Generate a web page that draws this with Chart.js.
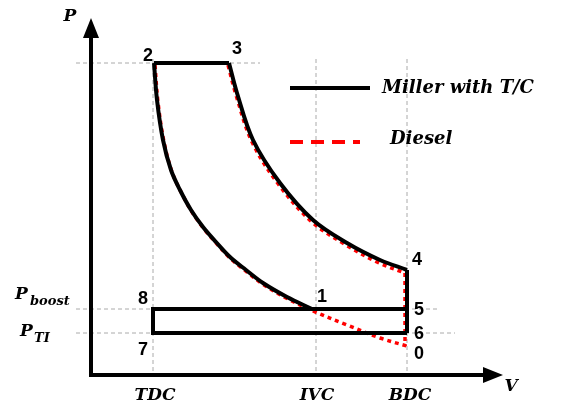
<!DOCTYPE html>
<html><head><meta charset="utf-8">
<script src="https://cdn.jsdelivr.net/npm/chart.js@4"></script>
<style>html,body{margin:0;padding:0;background:#fff}#w{width:579px;height:410px}</style>
</head><body><div id="w"><canvas id="c" width="579" height="410"></canvas></div>
<script>
// coordinates: V (x) and P (y) in schematic units
const compV = [154,157,163,171,180,191,203,216,230,246,263,287,312];
const compP = [312,275,235,205,185,165,148,133,118,105,92,78,66];
const dieselCompV = [155,158,164,172,181,192,204,217,231,247,264,288,313,347,380,407];
const dieselCompP = [310,273,233,203,183,163,146,131,116,103,90,76,64,50,37,29];
const expV = [229,237,253,280,313,347,380,407];
const expP = [312,282,235,192,155,132,115,105];
const dieselExpV = [228,236,252,279,312,346,379,405];
const dieselExpP = [310,280,233,190,153,130,112,102];
const topV = [154,229];
const topP = [312,312];
const rightV = [407,407,407];
const rightP = [105,66,42];
const loopV = [407,153,153,407];
const loopP = [42,42,66,66];
const dieselRightV = [405,405];
const dieselRightP = [102,29];
const refV = {TDC:153, IVC:316, BDC:407};
const refP = {top:312, boost:66, ti:42};
const pointLabels = [
 ['2',148,56],['3',237,49],['4',417,260],['1',322,297],['5',419,310],['6',419,334],['0',419,354],['8',143,299],['7',143,350]
];
function pts(xs,ys){return xs.map((x,i)=>({x,y:ys[i]}));}
const black = {borderColor:'#000',borderWidth:4,pointRadius:0,fill:false,tension:0};
const red = {borderColor:'#f00',borderWidth:3.5,borderDash:[4,4],pointRadius:0,fill:false,tension:0};
const curve = {tension:0.35};
const deco = {
 id:'deco',
 beforeDatasetsDraw(ch){
  const c=ch.ctx,x=ch.scales.x,y=ch.scales.y;
  c.save();c.strokeStyle='#aaa';c.lineWidth=1;c.setLineDash([4,3]);
  [refV.TDC,refV.IVC,refV.BDC].forEach(v=>{c.beginPath();c.moveTo(x.getPixelForValue(v),y.getPixelForValue(refP.top)-4);c.lineTo(x.getPixelForValue(v),y.getPixelForValue(0));c.stroke();});
  [[refP.top,260],[refP.boost,440],[refP.ti,455]].forEach(([p,e])=>{c.beginPath();c.moveTo(x.getPixelForValue(91)-15,y.getPixelForValue(p));c.lineTo(x.getPixelForValue(e),y.getPixelForValue(p));c.stroke();});
  c.restore();
 },
 afterDatasetsDraw(ch){
  const c=ch.ctx,x=ch.scales.x,y=ch.scales.y;
  const ox=x.getPixelForValue(91),oy=y.getPixelForValue(0);
  c.save();c.strokeStyle='#000';c.fillStyle='#000';c.lineWidth=4;c.setLineDash([]);
  c.beginPath();c.moveTo(ox,oy+2);c.lineTo(ox,34);c.moveTo(ox-2,oy);c.lineTo(488,oy);c.stroke();
  c.beginPath();c.moveTo(ox,18);c.lineTo(ox-8,38);c.lineTo(ox+8,38);c.closePath();c.fill();
  c.beginPath();c.moveTo(503,oy);c.lineTo(483,oy-8);c.lineTo(483,oy+8);c.closePath();c.fill();
  // legend
  c.beginPath();c.moveTo(290,88);c.lineTo(370,88);c.stroke();
  c.strokeStyle='#f00';c.setLineDash([13,8]);c.beginPath();c.moveTo(290,142);c.lineTo(360,142);c.stroke();
  c.setLineDash([]);
  c.font='italic bold 18px "DejaVu Serif"';c.textBaseline='middle';c.textAlign='left';
  c.fillText('Miller with T/C',382,88);c.fillText('Diesel',390,139);
  c.font='bold 18px "Liberation Sans"';c.textAlign='center';
  pointLabels.forEach(([t,a,b])=>c.fillText(t,a,b));
  c.font='italic bold 17px "DejaVu Serif"';
  c.fillText('TDC',155,396);c.fillText('IVC',317,396);c.fillText('BDC',410,396);
  c.fillText('V',511,387);c.fillText('P',70,17);
  c.textAlign='left';c.fillText('P',15,295);c.fillText('P',20,332);
  c.font='italic bold 13px "DejaVu Serif"';c.fillText('boost',30,302);c.fillText('TI',34,339);
  c.restore();
 }
};
new Chart(document.getElementById('c'),{
 type:'line',
 data:{datasets:[
  {...black,...curve,data:pts(compV,compP)},
  {...black,data:pts(topV,topP)},
  {...black,...curve,data:pts(expV,expP)},
  {...black,data:pts(rightV,rightP)},
  {...black,data:pts(loopV,loopP)},
  {...red,...curve,data:pts(dieselCompV,dieselCompP)},
  {...red,...curve,data:pts(dieselExpV,dieselExpP)},
  {...red,data:pts(dieselRightV,dieselRightP)}
 ]},
 options:{responsive:false,animation:false,
  layout:{padding:{left:91,right:79,top:20,bottom:35}},
  plugins:{legend:{display:false},tooltip:{enabled:false}},
  scales:{x:{type:'linear',min:91,max:500,display:false},y:{min:0,max:355,display:false}}},
 plugins:[deco]
});
</script></body></html>
